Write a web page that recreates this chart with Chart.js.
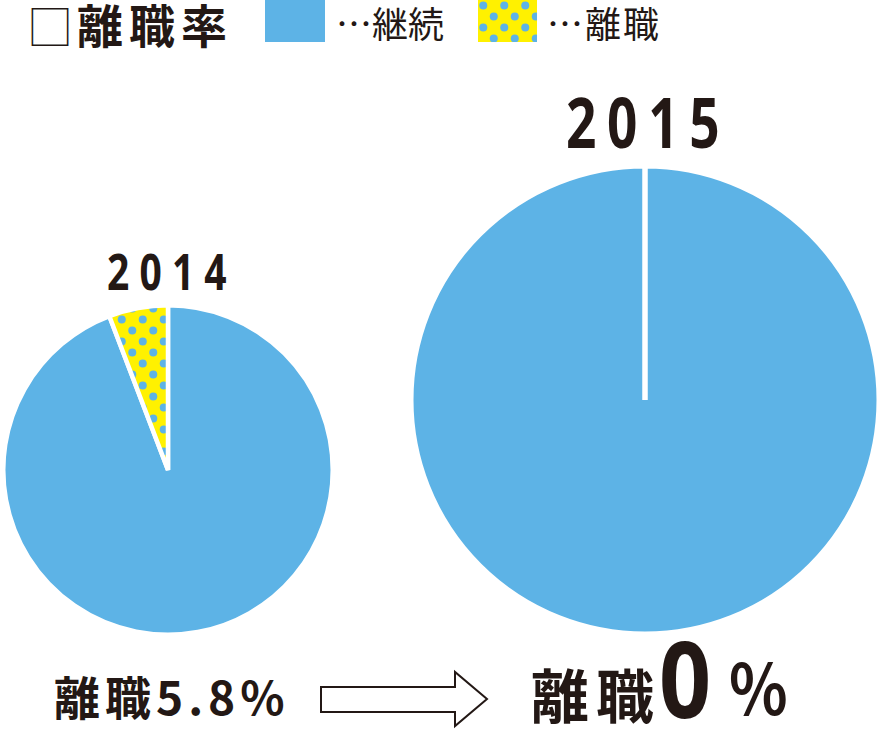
<!DOCTYPE html>
<html>
<head>
<meta charset="utf-8">
<script src="https://cdn.jsdelivr.net/npm/chart.js@4"></script>
<style>
  html, body { margin: 0; padding: 0; background: #fff; }
  body { width: 882px; height: 730px; position: relative; overflow: hidden;
         font-family: "Noto Sans CJK JP", "Noto Sans", sans-serif; color: #231815; }
  .abs { position: absolute; white-space: nowrap; line-height: 1; }
  canvas { position: absolute; }
  .bold { font-weight: 700; }
  .num { font-family: "Noto Sans", sans-serif; font-weight: 700; transform-origin: 0 0; }
</style>
</head>
<body>
<div class="abs" style="left:27px; top:1px; font-size:46px; font-weight:300;">□</div>
<div class="abs bold" id="legendTitle" style="left:77px; top:0px; font-size:46px; letter-spacing:6px;">離職率</div>
<div class="abs" id="swKeep" style="left:265px; top:0px; width:60px; height:42px; background:#5db3e6;"></div>
<div class="abs" id="lbKeep" style="left:336px; top:4px; font-size:36px; font-weight:400;"></div>
<canvas id="swLeave" width="59" height="42" style="left:478px; top:0px;"></canvas>
<div class="abs" id="lbLeave" style="left:547px; top:4px; font-size:36px; font-weight:400; letter-spacing:2px;"></div>

<div class="abs num" id="year0" style="left:107px; top:246px; font-size:50px; letter-spacing:13px; transform:scaleX(0.78);"></div>
<div class="abs num" id="year1" style="left:566px; top:86px; font-size:70px; letter-spacing:14px; transform:scaleX(0.76);"></div>

<canvas id="pie2014" style="left:1px; top:303px; width:334px; height:334px;"></canvas>
<canvas id="pie2015" style="left:408px; top:163px; width:474px; height:474px;"></canvas>

<div class="abs bold" id="rate0" style="left:54px; top:672px; font-size:46px; letter-spacing:5px;"></div>
<svg class="abs" style="left:318px; top:668px;" width="172" height="62">
  <polygon points="3,19 137,19 137,4 169,31 137,58 137,44 3,44" fill="#fff" stroke="#231815" stroke-width="2"/>
</svg>
<div class="abs bold" id="rate1a" style="left:531px; top:664px; font-size:58px; letter-spacing:7px;"></div>
<div class="abs num" id="rate1b" style="left:659px; top:624px; font-size:106px; transform:scaleX(0.86);"></div>
<div class="abs bold" id="rate1c" style="left:729px; top:650px; font-size:70px; transform-origin:0 0; transform:scaleX(0.87);">%</div>

<script>
const years = ["2014", "2015"];
const categories = ["継続", "離職"];
const keepRates = [94.2, 100];
const leaveRates = [5.8, 0];

const blue = "#5db3e6";
const yellow = "#fff100";

function dotPattern(ctx) {
  const tile = document.createElement("canvas");
  tile.width = 21;
  tile.height = 22;
  const t = tile.getContext("2d");
  t.fillStyle = yellow;
  t.fillRect(0, 0, 21, 22);
  t.fillStyle = blue;
  [[5.25, 5.5], [15.75, 16.5], [15.75 - 21, 16.5], [15.75, 16.5 - 22], [15.75 - 21, 16.5 - 22]].forEach(p => {
    t.beginPath();
    t.arc(p[0], p[1], 4, 0, Math.PI * 2);
    t.fill();
  });
  return ctx.createPattern(tile, "repeat");
}

// legend
document.getElementById("lbKeep").textContent = "…" + categories[0];
document.getElementById("lbLeave").textContent = "…" + categories[1];
const sw = document.getElementById("swLeave").getContext("2d");
sw.fillStyle = dotPattern(sw);
sw.fillRect(0, 0, 59, 42);

// year labels and rates
document.getElementById("year0").textContent = years[0];
document.getElementById("year1").textContent = years[1];
document.getElementById("rate0").textContent = categories[1] + leaveRates[0] + "%";
document.getElementById("rate1a").textContent = categories[1];
document.getElementById("rate1b").textContent = leaveRates[1];

function makePie(id, idx, border) {
  const el = document.getElementById(id);
  const ctx = el.getContext("2d");
  new Chart(el, {
    type: "pie",
    data: {
      labels: categories,
      datasets: [{
        data: [keepRates[idx], leaveRates[idx]],
        backgroundColor: [blue, dotPattern(ctx)],
        borderColor: "#fff",
        borderWidth: border
      }]
    },
    options: {
      responsive: false,
      animation: false,
      events: [],
      layout: { padding: 0 },
      plugins: { legend: { display: false }, tooltip: { enabled: false } }
    }
  });
}

makePie("pie2014", 0, 4.5);
makePie("pie2015", 1, 5.5);
</script>
</body>
</html>
